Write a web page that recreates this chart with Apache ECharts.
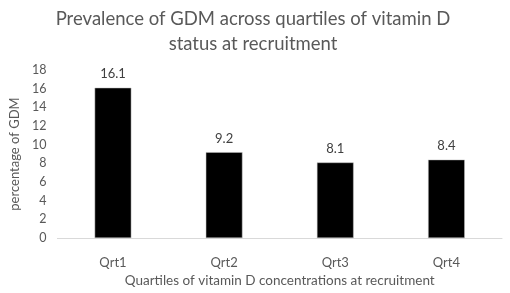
<!DOCTYPE html>
<html><head><meta charset="utf-8">
<script src="https://cdn.jsdelivr.net/npm/echarts@6/dist/echarts.min.js"></script>
<style>html,body{margin:0;padding:0;background:#fff}#c{width:510px;height:293px}</style>
</head><body><div id="c"></div>
<script>
const categories = ['Qrt1','Qrt2','Qrt3','Qrt4'];
const values = [16.1, 9.2, 8.1, 8.4];
const yTicks = {min:0, max:18, interval:2};
const FONT = 'Lato';
const chart = echarts.init(document.getElementById('c'));
chart.setOption({
  animation:false,
  backgroundColor:'#fff',
  title:{
    text:'Prevalence of GDM across quartiles of vitamin D\nstatus at recruitment',
    left:248, top:2, textAlign:'center',
    textStyle:{fontFamily:FONT, fontSize:18.5, fontWeight:'normal', color:'#595959', lineHeight:25}
  },
  grid:{left:46, right:8, top:70, bottom:52.5},
  xAxis:{
    type:'category', data:categories,
    name:'Quartiles of vitamin D concentrations at recruitment',
    nameLocation:'middle', nameGap:35,
    nameTextStyle:{fontFamily:FONT, fontSize:13.5, color:'#595959'},
    axisLine:{lineStyle:{color:'#d9d9d9', width:1}},
    axisTick:{show:false},
    axisLabel:{fontFamily:FONT, fontSize:13, color:'#595959', margin:18}
  },
  yAxis:{
    type:'value', min:yTicks.min, max:yTicks.max, interval:yTicks.interval,
    name:'percentage of GDM', nameLocation:'middle', nameGap:31,
    nameTextStyle:{fontFamily:FONT, fontSize:13, color:'#595959'},
    axisLine:{show:false}, axisTick:{show:false}, splitLine:{show:false},
    axisLabel:{fontFamily:FONT, fontSize:12.5, color:'#595959', margin:11}
  },
  series:[{
    type:'bar', data:values, barWidth:'33%',
    itemStyle:{color:'#000', borderColor:'#bfbfbf', borderWidth:0.5},
    label:{show:true, position:'top', distance:7, fontFamily:FONT, fontSize:13, color:'#404040',
      formatter:p=>p.value.toFixed(1)}
  }]
});
</script></body></html>
